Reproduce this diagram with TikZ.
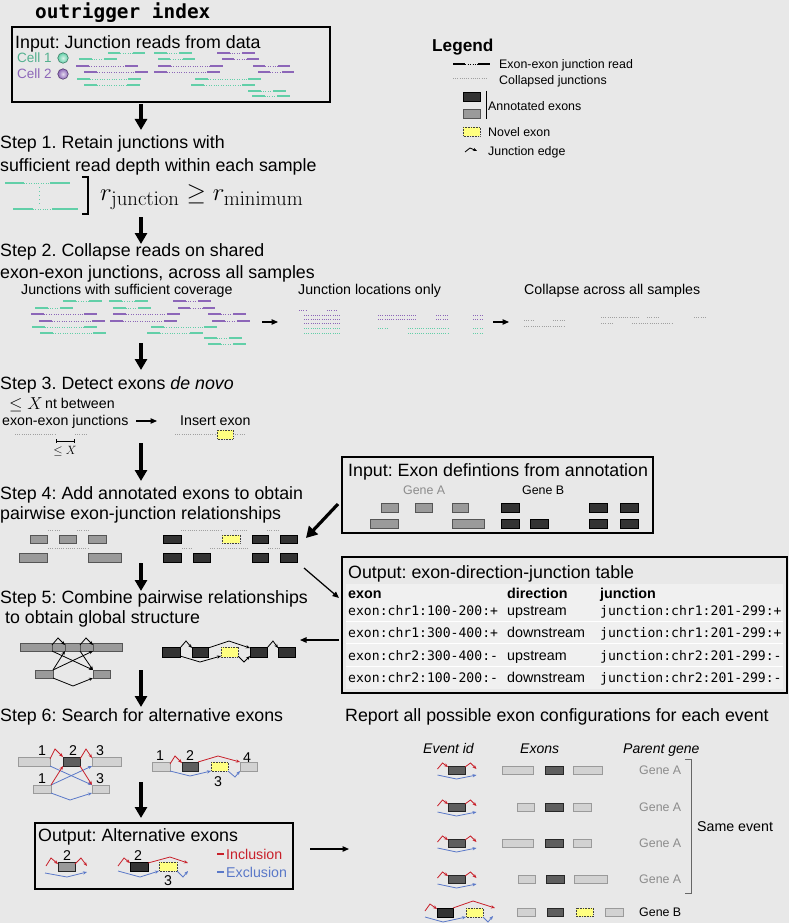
\documentclass[tikz,border=0pt]{standalone}
\usepackage[no-math]{fontspec}
\setmainfont{Liberation Sans}
\newfontfamily\monof{DejaVu Sans Mono}
\usetikzlibrary{arrows.meta}
\frenchspacing
\definecolor{bg}{HTML}{E8E8E8}
\definecolor{rteal}{HTML}{62CFA8}
\definecolor{rpurp}{HTML}{8C66B8}
\definecolor{exgray}{HTML}{9A9A9A}
\definecolor{exgrayd}{HTML}{555555}
\definecolor{exdark}{HTML}{333333}
\definecolor{exlight}{HTML}{D2D2D2}
\definecolor{exlightd}{HTML}{9A9A9A}
\definecolor{exmid}{HTML}{5E5E5E}
\definecolor{novelc}{HTML}{FFFF80}
\definecolor{incl}{HTML}{C8202A}
\definecolor{excl}{HTML}{5A78C8}
\definecolor{colj}{HTML}{A0A0A0}
\definecolor{genea}{HTML}{8C8C8C}
\definecolor{tablebg}{HTML}{F0F0F0}
\newcommand\szL{\fontsize{17.8}{21}\selectfont}
\newcommand\szM{\fontsize{14.2}{17}\selectfont}
\newcommand\szS{\fontsize{12.4}{15}\selectfont}
\newcommand\szT{\fontsize{13.5}{16}\selectfont}
\newcommand\szMono{\monof\fontsize{13.1}{16}\selectfont}
\newcommand{\jread}[4]{%
  \pgfmathsetmacro{\jra}{#1+min(13,(#2-#1)/3)}%
  \pgfmathsetmacro{\jrb}{#2-min(13,(#2-#1)/3)}%
  \draw[#4,line width=1.5pt] (#1,#3) -- (\jra,#3) (\jrb,#3) -- (#2,#3);%
  \draw[#4,line width=0.8pt,dash pattern=on 0.8pt off 1.6pt] (\jra,#3) -- (\jrb,#3);}
\newcommand{\cjn}[4]{\draw[#4,line width=1pt,dash pattern=on 1pt off 1.2pt] (#1,#3) -- (#2,#3);}
\tikzset{
  txt/.style={anchor=base west, inner sep=0pt},
  ctxt/.style={anchor=base, inner sep=0pt},
  bigarrow/.style={line width=3.2pt, -{Triangle[length=11pt,width=12pt]}},
  thinarrow/.style={line width=1.2pt, -{Triangle[length=6.5pt,width=5.5pt]}},
  jedge/.style={line width=0.8pt, -{Stealth[length=4pt,width=3.2pt]}},
  exA/.style={fill=exgray, draw=exgrayd, line width=0.6pt},
  exB/.style={fill=exdark, draw=black, line width=0.6pt},
  exL/.style={fill=exlight, draw=exlightd, line width=0.6pt},
  exM/.style={fill=exmid, draw=black!85, line width=0.6pt},
  novel/.style={fill=novelc, draw=black!75, line width=0.6pt, dash pattern=on 0.8pt off 0.8pt},
  boxframe/.style={draw=black, line width=1.5pt},
  evA/.pic={
    \draw[exM] (-8.5,-4) rectangle (8.5,4);
    \draw[jedge,incl] (-19,-1) -- (-14,-7) -- (-8.5,-3);
    \draw[jedge,incl] (8.5,-3) -- (14,-7) -- (20,-1);
    \draw[jedge,excl] (-19,5) -- (0,9) -- (20,5);
  }
}
\begin{document}
\begin{tikzpicture}[x=1pt,y=-1pt]
\useasboundingbox (0,0) rectangle (789,923);
\fill[bg] (0,0) rectangle (789,923);

% ---------- title ----------
\node[txt, font={\monof\bfseries\fontsize{19.4}{22}\selectfont}] (title) at (35,19) {outrigger index};

% ---------- input box ----------
\draw[boxframe] (12,27) rectangle (330,102);
\node[txt, font=\szL] (intitle) at (15,49) {Input: Junction reads from data};
\node[txt, font=\szT, text=rteal!85!black] (cell1) at (17,62.5) {Cell 1};
\node[txt, font=\szT, text=rpurp] (cell2) at (17,78.5) {Cell 2};
\node[circle, inner sep=0pt, minimum size=10.5pt, draw=rteal!60!black, line width=0.6pt, inner color=rteal!25, outer color=rteal] (dot1) at (63,58) {};
\node[circle, inner sep=0pt, minimum size=10.5pt, draw=rpurp!60!black, line width=0.6pt, inner color=rpurp!25, outer color=rpurp] (dot2) at (63,74) {};
\jread{108}{145}{53}{rteal}\jread{154}{192}{53}{rteal}\jread{217}{255}{53}{rpurp}
\jread{79}{117}{59}{rteal}\jread{158}{195}{59}{rteal}\jread{222}{259}{59}{rpurp}
\jread{76}{138}{66}{rpurp}\jread{158}{223}{66}{rpurp}\jread{253}{290}{66}{rpurp}
\jread{84}{148}{72}{rpurp}\jread{154}{220}{72}{rpurp}\jread{258}{294}{72}{rpurp}
\jread{77}{141}{79}{rteal}\jread{195}{261}{79}{rteal}
\jread{84}{140}{85}{rteal}\jread{191}{255}{85}{rteal}
\jread{248}{286}{91}{rteal}\jread{252}{290}{96}{rteal}

% ---------- legend ----------
\node[txt, font={\bfseries\fontsize{17.2}{20}\selectfont}] (legend) at (432,52) {Legend};
\jread{453}{490}{64}{black}
\node[txt, font=\szS] (lg1) at (499,69) {Exon-exon junction read};
\cjn{453}{487}{79}{colj}
\node[txt, font=\szS] (lg2) at (499,85) {Collapsed junctions};
\draw[exB] (463,92) rectangle (480,101);
\draw[exA] (463,109) rectangle (480,118);
\draw[line width=0.8pt] (486,91) -- (486,119);
\node[txt, font=\szS] (lg3) at (488,111) {Annotated exons};
\draw[novel] (463,127) rectangle (480,136);
\node[txt, font=\szS] (lg4) at (488,136) {Novel exon};
\draw[jedge,black] (465,152) -- (470,148) -- (477,151);
\node[txt, font=\szS] (lg5) at (488,155) {Junction edge};

% ---------- step 1 ----------
\coordinate (a1s) at (141,104); \coordinate (a1e) at (141,130);
\draw[bigarrow] (a1s) -- (a1e);
\node[txt, font=\szL] (s1a) at (0,149) {Step 1. Retain junctions with};
\node[txt, font=\szL] (s1b) at (0,171) {sufficient read depth within each sample};
\draw[rteal,line width=1.5pt] (5,183) -- (24,183) (50,183) -- (70,183);
\draw[rteal,line width=0.8pt,dash pattern=on 0.8pt off 1.6pt] (24,183) -- (50,183);
\draw[rteal,line width=1.5pt] (13,209) -- (33,209) (52,209) -- (78,209);
\draw[rteal,line width=0.8pt,dash pattern=on 0.8pt off 1.6pt] (33,209) -- (52,209);
\draw[rteal,line width=1pt,dash pattern=on 1pt off 3pt] (39,187) -- (39,206);
\draw[line width=1.3pt] (82,177) -- (88,177) -- (88,214) -- (82,214);
\node[anchor=west, inner sep=0pt, font=\fontsize{24.88}{28}\selectfont] (mth) at (100,197) {$r_{\mathrm{junction}} \geq r_{\mathrm{minimum}}$};

% ---------- step 2 ----------
\coordinate (a2s) at (141,217); \coordinate (a2e) at (141,244);
\draw[bigarrow] (a2s) -- (a2e);
\node[txt, font=\szL] (s2a) at (0,256) {Step 2. Collapse reads on shared};
\node[txt, font=\szL] (s2b) at (0,278) {exon-exon junctions, across all samples};
\node[txt, font=\szM] (s2l1) at (21,294) {Junctions with sufficient coverage};
\node[txt, font=\szM] (s2l2) at (298,294) {Junction locations only};
\node[txt, font=\szM] (s2l3) at (524,294) {Collapse across all samples};
\jread{63}{102}{301}{rteal}\jread{109}{148}{301}{rteal}\jread{173}{211}{301}{rpurp}
\jread{35}{73}{308}{rteal}\jread{113}{151}{308}{rteal}\jread{178}{215}{308}{rpurp}
\jread{31}{97}{314}{rpurp}\jread{113}{180}{314}{rpurp}\jread{208}{246}{314}{rpurp}
\jread{39}{105}{321}{rpurp}\jread{110}{177}{321}{rpurp}\jread{212}{250}{321}{rpurp}
\jread{32}{97}{327}{rteal}\jread{151}{217}{327}{rteal}
\jread{40}{106}{333}{rteal}\jread{147}{203}{333}{rteal}
\jread{204}{242}{338}{rteal}\jread{208}{246}{344}{rteal}
\coordinate (ar1s) at (262,322); \coordinate (ar1e) at (278,322);
\draw[thinarrow] (ar1s) -- (ar1e);
\cjn{299}{307}{310}{rpurp}\cjn{327}{337}{310}{rpurp}
\cjn{304}{341}{315}{rpurp}\cjn{304}{341}{319}{rpurp}\cjn{304}{341}{323}{rpurp}
\cjn{304}{341}{328}{rteal}\cjn{304}{341}{333}{rteal}
\cjn{378}{417}{315}{rpurp}\cjn{378}{417}{319}{rpurp}
\cjn{436}{449}{315}{rpurp}\cjn{436}{449}{319}{rpurp}
\cjn{378}{389}{328}{rteal}\cjn{408}{449}{328}{rteal}\cjn{408}{449}{333}{rteal}
\cjn{473}{483}{315}{rpurp}\cjn{473}{483}{319}{rpurp}
\cjn{473}{483}{328}{rteal}\cjn{473}{483}{333}{rteal}
\coordinate (ar2s) at (493,322); \coordinate (ar2e) at (509,322);
\draw[thinarrow] (ar2s) -- (ar2e);
\cjn{524}{533}{320}{colj}\cjn{553}{565}{320}{colj}\cjn{524}{565}{326}{colj}
\cjn{601}{640}{317}{colj}\cjn{647}{660}{317}{colj}\cjn{694}{706}{317}{colj}
\cjn{601}{613}{323}{colj}\cjn{632}{672}{323}{colj}

% ---------- step 3 ----------
\coordinate (a3s) at (141,343); \coordinate (a3e) at (141,370);
\draw[bigarrow] (a3s) -- (a3e);
\node[txt, font=\szL] (s3) at (0,389) {Step 3. Detect exons \textit{de novo}};
\node[anchor=base west, inner sep=0pt, font=\fontsize{17.28}{20}\selectfont] (s3m) at (9,409) {$\leq X$};
\node[txt, font=\szM] (s3b) at (45,408) {nt between};
\node[txt, font=\szM] (s3c) at (2,425) {exon-exon junctions};
\node[txt, font=\szM] (s3d) at (180,425) {Insert exon};
\coordinate (ar3s) at (136,421); \coordinate (ar3e) at (157,421);
\draw[thinarrow] (ar3s) -- (ar3e);
\cjn{15}{55}{434}{colj}\cjn{75}{88}{434}{colj}
\draw[line width=0.5pt] (56,441) -- (74,441) (56,439) -- (56,443) (74,439) -- (74,443);
\node[anchor=base, inner sep=0pt, font=\fontsize{12}{14}\selectfont] (s3x) at (65,454) {$\leq X$};
\cjn{175}{217}{434}{colj}
\draw[novel] (217,430) rectangle (233,439);
\cjn{233}{245}{434}{colj}

% ---------- step 4 ----------
\coordinate (a4s) at (141,443); \coordinate (a4e) at (141,481);
\draw[bigarrow] (a4s) -- (a4e);
\node[txt, font=\szL] (s4a) at (0,499) {Step 4: Add annotated exons to obtain};
\node[txt, font=\szL] (s4b) at (0,519) {pairwise exon-junction relationships};
\draw[exA] (30,535) rectangle (47,543);
\draw[exA] (59,535) rectangle (76,543);
\draw[exA] (88,535) rectangle (106,543);
\draw[exA] (19,553) rectangle (47,562);
\draw[exA] (88,553) rectangle (121,562);
\cjn{48}{61}{530}{colj}\cjn{77}{90}{530}{colj}\cjn{48}{88}{548}{colj}
\draw[exB] (163,535) rectangle (181,543);
\draw[novel] (222,535) rectangle (240,543);
\draw[exB] (252,535) rectangle (268,543);
\draw[exB] (280,535) rectangle (297,543);
\draw[exB] (163,553) rectangle (181,562);
\draw[exB] (193,553) rectangle (210,562);
\draw[exB] (252,553) rectangle (268,562);
\draw[exB] (280,553) rectangle (297,562);
\cjn{181}{222}{530}{colj}\cjn{233}{247}{530}{colj}\cjn{267}{280}{530}{colj}
\cjn{182}{192}{548}{colj}\cjn{210}{248}{548}{colj}\cjn{268}{280}{548}{colj}

% input exon box
\draw[boxframe] (342,457) rectangle (653,533);
\node[txt, font=\szL] (inex) at (348,476) {Input: Exon defintions from annotation};
\node[txt, font=\szS, text=genea] (gA) at (403,494.5) {Gene A};
\node[txt, font=\szS] (gB) at (522,494.5) {Gene B};
\draw[exA] (381,503) rectangle (398,512);
\draw[exA] (415,503) rectangle (432,512);
\draw[exA] (452,503) rectangle (468,512);
\draw[exA] (370,519) rectangle (398,528);
\draw[exA] (452,519) rectangle (484,528);
\draw[exB] (501,503) rectangle (519,512);
\draw[exB] (589,503) rectangle (607,512);
\draw[exB] (620,503) rectangle (638,512);
\draw[exB] (501,519) rectangle (519,528);
\draw[exB] (530,519) rectangle (548,528);
\draw[exB] (589,519) rectangle (607,528);
\draw[exB] (620,519) rectangle (638,528);
\coordinate (ar4s) at (338,504); \coordinate (ar4e) at (306,538);
\draw[bigarrow] (ar4s) -- (ar4e);

% output table
\draw[boxframe] (342,557) rectangle (787,693);
\node[txt, font=\szL] (outt) at (348,578) {Output: exon-direction-junction table};
\fill[tablebg] (346,584) rectangle (783,689);
\draw[white, line width=1pt] (346,621) -- (783,621) (346,643) -- (783,643) (346,666) -- (783,666);
\node[txt, font={\bfseries\fontsize{14.3}{17}\selectfont}] (h1) at (348,598) {exon};
\node[txt, font={\bfseries\fontsize{14.3}{17}\selectfont}] (h2) at (507,598) {direction};
\node[txt, font={\bfseries\fontsize{14.3}{17}\selectfont}] (h3) at (600,598) {junction};
\node[txt, font=\szMono] (r1a) at (348,615) {exon:chr1:100-200:+};
\node[txt, font={\fontsize{14.3}{17}\selectfont}] (r1b) at (507,615) {upstream};
\node[txt, font=\szMono] (r1c) at (600,615) {junction:chr1:201-299:+};
\node[txt, font=\szMono] (r2a) at (348,637) {exon:chr1:300-400:+};
\node[txt, font={\fontsize{14.3}{17}\selectfont}] (r2b) at (507,637) {downstream};
\node[txt, font=\szMono] (r2c) at (600,637) {junction:chr1:201-299:+};
\node[txt, font=\szMono] (r3a) at (348,660) {exon:chr2:300-400:-};
\node[txt, font={\fontsize{14.3}{17}\selectfont}] (r3b) at (507,660) {upstream};
\node[txt, font=\szMono] (r3c) at (600,660) {junction:chr2:201-299:-};
\node[txt, font=\szMono] (r4a) at (348,682) {exon:chr2:100-200:-};
\node[txt, font={\fontsize{14.3}{17}\selectfont}] (r4b) at (507,682) {downstream};
\node[txt, font=\szMono] (r4c) at (600,682) {junction:chr2:201-299:-};
\coordinate (ar5s) at (304,568); \coordinate (ar5e) at (339,598);
\draw[thinarrow] (ar5s) -- (ar5e);
\coordinate (ar6s) at (339,640); \coordinate (ar6e) at (300,640);
\draw[thinarrow] (ar6s) -- (ar6e);

% ---------- step 5 ----------
\coordinate (a5s) at (141,563); \coordinate (a5e) at (141,591);
\draw[bigarrow] (a5s) -- (a5e);
\node[txt, font=\szL] (s5a) at (0,603) {Step 5: Combine pairwise relationships};
\node[txt, font=\szL] (s5b) at (0,623) {\ to obtain global structure};
\draw[exA] (20,643) rectangle (52,651);
\draw[exA] (52,643) rectangle (65,651);
\draw[exA] (65,643) rectangle (80,651);
\draw[exA] (80,643) rectangle (93,651);
\draw[exA] (93,643) rectangle (122,651);
\draw[exA] (35,670) rectangle (53,678);
\draw[exA] (93,670) rectangle (110,678);
\draw[jedge] (52,645) -- (58,638) -- (65,645);
\draw[jedge] (80,645) -- (86,638) -- (93,645);
\draw[jedge] (52,651) -- (93,670);
\draw[jedge] (80,651) -- (93,670);
\draw[jedge] (53,670) -- (65,651);
\draw[jedge] (53,670) -- (93,651);
\draw[jedge] (53,678) -- (73,686) -- (93,678);
\draw[exB] (162,647) rectangle (180,657);
\draw[exB] (192,647) rectangle (208,657);
\draw[novel] (221,647) rectangle (238,657);
\draw[exB] (250,647) rectangle (267,657);
\draw[exB] (278,647) rectangle (295,657);
\draw[jedge] (180,648) -- (186,641) -- (192,648);
\draw[jedge] (208,648) -- (229,641) -- (250,648);
\draw[jedge] (267,648) -- (273,641) -- (278,648);
\draw[jedge] (180,656) -- (200,662) -- (221,656);
\draw[jedge] (238,656) -- (244,662) -- (250,656);

% ---------- step 6 ----------
\coordinate (a6s) at (141,670); \coordinate (a6e) at (141,707);
\draw[bigarrow] (a6s) -- (a6e);
\node[txt, font=\szL] (s6) at (0,721) {Step 6: Search for alternative exons};
\node[txt, font=\szL] (rep) at (345,721) {Report all possible exon configurations for each event};
\node[ctxt, font=\szM] (n1a) at (42,755) {1};
\node[ctxt, font=\szM] (n2a) at (73,755) {2};
\node[ctxt, font=\szM] (n3a) at (100,755) {3};
\node[ctxt, font=\szM] (n1b) at (42,783) {1};
\node[ctxt, font=\szM] (n3b) at (100,783) {3};
\draw[exL] (18,757) rectangle (50,766);
\draw[exM] (63,757) rectangle (80,766);
\draw[exL] (92,757) rectangle (121,766);
\draw[exL] (33,785) rectangle (51,793);
\draw[exL] (92,785) rectangle (109,793);
\draw[jedge,incl] (50,759) -- (55,749) -- (63,757);
\draw[jedge,incl] (80,759) -- (86,749) -- (92,758);
\draw[jedge,excl] (50,766) -- (92,785);
\draw[jedge,excl] (51,785) -- (92,766);
\draw[jedge,incl] (51,785) -- (63,766);
\draw[jedge,incl] (80,766) -- (92,785);
\draw[jedge,excl] (51,793) -- (70,800) -- (92,793);
\node[ctxt, font=\szM] (m1) at (160,760) {1};
\node[ctxt, font=\szM] (m2) at (190,760) {2};
\node[ctxt, font=\szM] (m4) at (247,762) {4};
\node[ctxt, font=\szM] (m3) at (218,786) {3};
\draw[exL] (152,762) rectangle (170,771);
\draw[exM] (182,762) rectangle (198,771);
\draw[novel] (211,762) rectangle (228,771);
\draw[exL] (240,762) rectangle (257,771);
\draw[jedge,incl] (170,764) -- (175,756) -- (182,763);
\draw[jedge,incl] (198,762) -- (218,756) -- (240,762);
\draw[jedge,excl] (170,771) -- (190,776) -- (211,771);
\draw[jedge,excl] (228,771) -- (235,777) -- (240,771);

% ---------- output alternative exons ----------
\coordinate (a7s) at (141,782); \coordinate (a7e) at (141,818);
\draw[bigarrow] (a7s) -- (a7e);
\draw[boxframe] (35,823) rectangle (293,889);
\node[txt, font=\szL] (outalt) at (38,841) {Output: Alternative exons};
\node[ctxt, font=\szM] (o2a) at (67,860) {2};
\draw[fill=exgray, draw=black!85, line width=0.6pt] (58,862) rectangle (75,871);
\draw[jedge,incl] (46,866) -- (51,858) -- (58,864);
\draw[jedge,incl] (75,864) -- (81,858) -- (87,866);
\draw[jedge,excl] (45,873) -- (67,877) -- (87,872);
\node[ctxt, font=\szM] (o2b) at (138,860) {2};
\draw[exB] (130,862) rectangle (148,871);
\draw[novel] (159,862) rectangle (177,871);
\node[ctxt, font=\szM] (o3b) at (168,885) {3};
\draw[jedge,incl] (118,866) -- (124,858) -- (130,863);
\draw[jedge,incl] (148,863) -- (170,857) -- (188,863);
\draw[jedge,excl] (118,871) -- (140,877) -- (159,871);
\draw[jedge,excl] (177,871) -- (183,877) -- (188,871);
\draw[incl, line width=1.5pt] (217,854) -- (224,854);
\node[txt, font=\szM, text=incl] (inc) at (226,859) {Inclusion};
\draw[excl, line width=1.5pt] (217,872) -- (224,872);
\node[txt, font=\szM, text=excl] (exc) at (226,877) {Exclusion};
\coordinate (ar7s) at (310,849); \coordinate (ar7e) at (349,849);
\draw[thinarrow] (ar7s) -- (ar7e);

% ---------- report ----------
\node[txt, font={\itshape\fontsize{14}{17}\selectfont}] (hev) at (423,753) {Event id};
\node[txt, font={\itshape\fontsize{14}{17}\selectfont}] (hex) at (520,753) {Exons};
\node[txt, font={\itshape\fontsize{14}{17}\selectfont}] (hpg) at (623,753) {Parent gene};
\pic at (456.5,770) {evA};
\pic at (456.5,807) {evA};
\pic at (456.5,843) {evA};
\pic at (456.5,879) {evA};
\draw[exL] (502,766) rectangle (533,774.5);
\draw[exM] (545,766) rectangle (563,774.5);
\draw[exL] (573,766) rectangle (602,774.5);
\draw[exL] (517,803) rectangle (534,811.5);
\draw[exM] (545,803) rectangle (563,811.5);
\draw[exL] (573,803) rectangle (591,811.5);
\draw[exL] (502,839) rectangle (533,847.5);
\draw[exM] (545,839) rectangle (563,847.5);
\draw[exL] (573,839) rectangle (591,847.5);
\draw[exL] (518,875) rectangle (535,883.5);
\draw[exM] (546,875) rectangle (564,883.5);
\draw[exL] (574,875) rectangle (607,883.5);
\draw[exL] (517,908) rectangle (535,916.5);
\draw[exM] (547,908) rectangle (563,916.5);
\draw[novel] (576,908) rectangle (593,916.5);
\draw[exL] (605,908) rectangle (623,916.5);
\node[txt, font=\szS, text=genea] (ga1) at (639,774) {Gene A};
\node[txt, font=\szS, text=genea] (ga2) at (639,811) {Gene A};
\node[txt, font=\szS, text=genea] (ga3) at (639,847) {Gene A};
\node[txt, font=\szS, text=genea] (ga4) at (639,883) {Gene A};
\node[txt, font=\szS] (gb5) at (639,916.5) {Gene B};
\draw[black!60, line width=1pt] (685,759) -- (691,759) -- (691,893) -- (685,893);
\node[txt, font=\szM] (same) at (697,831) {Same event};
\draw[exB] (437,908) rectangle (453,917);
\draw[novel] (466,908) rectangle (483,917);
\draw[jedge,incl] (425,911) -- (430,904) -- (437,909);
\draw[jedge,incl] (453,908) -- (473,901) -- (495,908);
\draw[jedge,excl] (425,917) -- (443,922) -- (466,917);
\draw[jedge,excl] (483,917) -- (488,922) -- (493,916);
\end{tikzpicture}
\end{document}
